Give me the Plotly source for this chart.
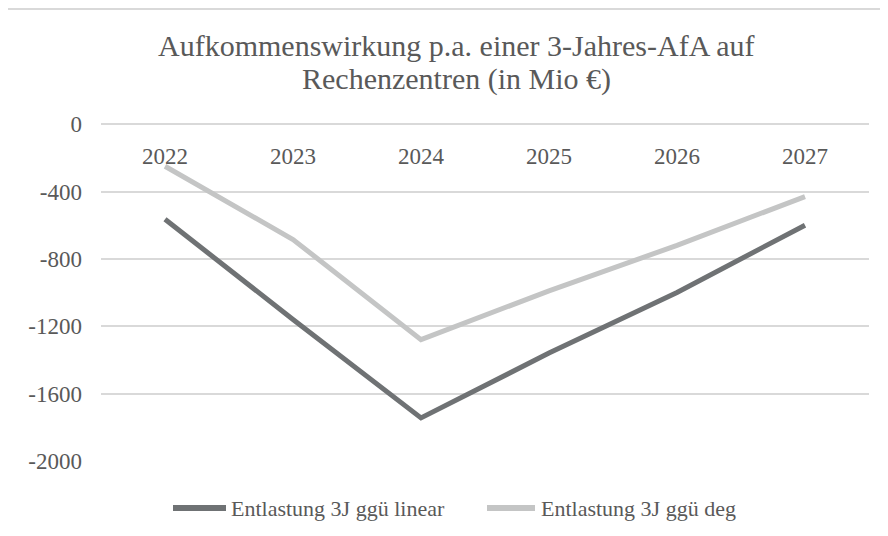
import plotly.graph_objects as go

# Chart data (Mio €)
years = ["2022", "2023", "2024", "2025", "2026", "2027"]
entlastung_linear = [-565, -1160, -1745, -1360, -1000, -600]
entlastung_deg = [-250, -685, -1280, -990, -720, -430]
series_names = ["Entlastung 3J ggü linear", "Entlastung 3J ggü deg"]
title_lines = ["Aufkommenswirkung p.a. einer 3-Jahres-AfA auf", "Rechenzentren (in Mio €)"]
y_ticks = [0, -400, -800, -1200, -1600, -2000]

TEXT = "#595959"
GRID = "#d9d9d9"
DARK = "#6f7274"
LIGHT = "#c4c5c5"
FONT = "Times New Roman, Liberation Serif, DejaVu Serif, serif"

W, H = 888, 536
OFF = 8  # page body margin in the browser
M = dict(l=101 - OFF, r=19 + OFF, t=124 - OFF, b=75 + OFF)
PW = W - M["l"] - M["r"]
PH = H - M["t"] - M["b"]


def px_x(px):
    # screen pixel -> paper coordinate
    return (px - OFF - M["l"]) / PW


def px_y(py):
    return (H - M["b"] - (py - OFF)) / PH


fig = go.Figure()

for name, vals, col in [(series_names[0], entlastung_linear, DARK),
                        (series_names[1], entlastung_deg, LIGHT)]:
    fig.add_trace(go.Scatter(
        x=years, y=vals,
        mode="lines",
        name=name,
        line=dict(color=col, width=5),
        showlegend=False,
        hoverinfo="x+y+name",
    ))

fig.update_layout(
    width=W, height=H,
    margin=M,
    paper_bgcolor="white",
    plot_bgcolor="white",
    font=dict(family=FONT, color=TEXT),
    xaxis=dict(
        type="category",
        range=[-0.5, len(years) - 0.5],
        anchor="free", position=1, side="bottom",
        showline=False, showgrid=False, zeroline=False,
        ticks="", ticklabelstandoff=16,
        tickfont=dict(family=FONT, size=23, color=TEXT),
    ),
    yaxis=dict(
        range=[-2001, 1],
        tickvals=y_ticks,
        ticktext=[str(v) for v in y_ticks],
        showline=False,
        zeroline=True, zerolinecolor=GRID, zerolinewidth=2,
        gridcolor=GRID, gridwidth=2,
        ticks="", ticklabelstandoff=18,
        tickfont=dict(family=FONT, size=23, color=TEXT),
    ),
    showlegend=False,
)

# title, two lines with Excel-like tight spacing
for line, cy in zip(title_lines, [45, 79]):
    fig.add_annotation(text=line, xref="paper", yref="paper",
                       x=px_x(456), y=px_y(cy), xanchor="center", yanchor="middle",
                       showarrow=False, font=dict(family=FONT, size=30, color=TEXT))

# chart area border (Excel style)
fig.add_shape(type="rect", xref="paper", yref="paper",
              x0=px_x(7), x1=px_x(W + 30), y0=px_y(9), y1=px_y(H + 30),
              line=dict(color=GRID, width=2), fillcolor="rgba(0,0,0,0)", layer="below")

# legend drawn manually to match the long Excel line samples
legend_items = [(series_names[0], DARK, 173, 226, 229), (series_names[1], LIGHT, 487, 535, 539)]
for name, col, x0, x1, tx in legend_items:
    fig.add_shape(type="line", xref="paper", yref="paper",
                  x0=px_x(x0), x1=px_x(x1), y0=px_y(508), y1=px_y(508),
                  line=dict(color=col, width=6))
    fig.add_annotation(text=name, xref="paper", yref="paper",
                       x=px_x(tx), y=px_y(508), xanchor="left", yanchor="middle",
                       showarrow=False, font=dict(family=FONT, size=22, color=TEXT))

fig.write_html("out.html")
